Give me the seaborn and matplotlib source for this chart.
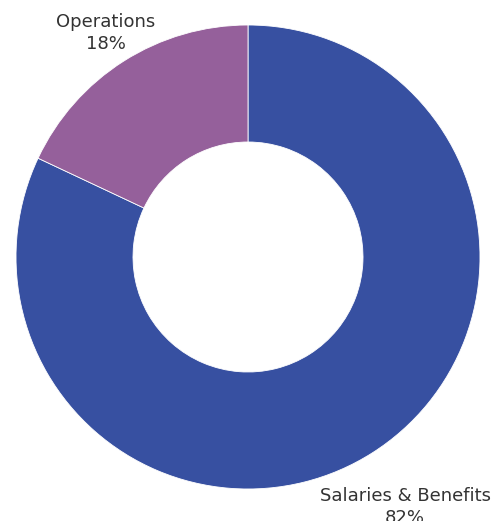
import matplotlib
matplotlib.use("Agg")
import matplotlib.pyplot as plt
import seaborn as sns

categories = ["Salaries & Benefits", "Operations"]
values = [82, 18]
pct_labels = ["82%", "18%"]
colors = ["#3750A1", "#95609B"]

sns.set_theme(style="white")
plt.rcParams['font.family'] = ['DejaVu Sans']

W, H = 496, 521
fig = plt.figure(figsize=(W / 100, H / 100), dpi=100)
cx, cy, r = 248, 257, 232
ax = fig.add_axes([(cx - r) / W, (H - cy - r) / H, 2 * r / W, 2 * r / H])
ax.pie(values, colors=colors, startangle=90, counterclock=False,
       radius=1.0, wedgeprops=dict(width=117 / 232, edgecolor="white", linewidth=0.6))
ax.set_xlim(-1, 1)
ax.set_ylim(-1, 1)
ax.set_aspect("equal")
ax.axis("off")

label_pos = {"Operations": (106, 33), "Salaries & Benefits": (405, 507)}
for cat, pct in zip(categories, pct_labels):
    x, y = label_pos[cat]
    fig.text(x / W, 1 - y / H, f"{cat}\n{pct}", ha="center", va="center",
             fontsize=13, color="#333333", linespacing=1.3)

fig.savefig("out.png", dpi=100, facecolor="white")
